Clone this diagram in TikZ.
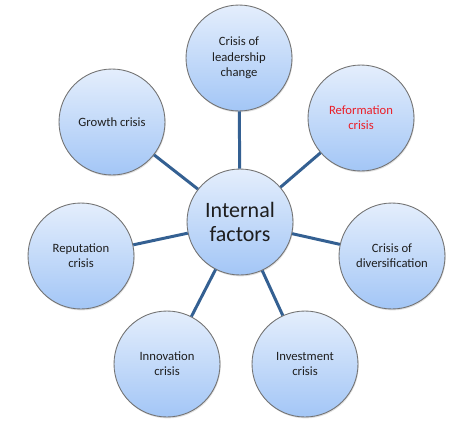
\documentclass[tikz,border=0pt]{standalone}
\usepackage{fontspec}
\setmainfont{Carlito}
\usetikzlibrary{shadows}
\definecolor{ballTop}{RGB}{228,238,252}
\definecolor{ballBot}{RGB}{163,198,246}
\definecolor{spoke}{RGB}{52,96,146}
\definecolor{txt}{RGB}{30,30,30}
\definecolor{hot}{RGB}{235,30,40}
\tikzset{
  ball/.style={circle, minimum size=2.12cm, inner sep=0pt, align=center,
    draw=black!55, line width=0.5pt, top color=ballTop, bottom color=ballBot,
    text=txt, font=\fontsize{7.2}{8.7}\selectfont,
    drop shadow={opacity=0.25, shadow xshift=0.4pt, shadow yshift=-0.8pt}},
  hub/.style={ball, font=\fontsize{12.5}{13.5}\selectfont},
  spokeline/.style={draw=spoke, line width=1.7pt}
}
\begin{document}
\begin{tikzpicture}[x=0.02cm, y=-0.02cm]
  \useasboundingbox (0,0) rectangle (467,430);
  % centre
  \node[hub] (hub) at (240,222) {Internal\\factors};
  % outer ring
  \node[ball] (lead) at (239,58) {Crisis of\\leadership\\change};
  \node[ball, text=hot] (reform) at (361,118) {Reformation\\crisis};
  \node[ball] (divers) at (392,256) {Crisis of\\diversification};
  \node[ball] (invest) at (305,364) {Investment\\crisis};
  \node[ball] (innov) at (167,364) {Innovation\\crisis};
  \node[ball] (reput) at (81,256) {Reputation\\crisis};
  \node[ball] (growth) at (112,122) {Growth crisis};
  % spokes
  \foreach \n in {lead,reform,divers,invest,innov,reput,growth}
    \draw[spokeline] (hub) -- (\n);
\end{tikzpicture}
\end{document}
